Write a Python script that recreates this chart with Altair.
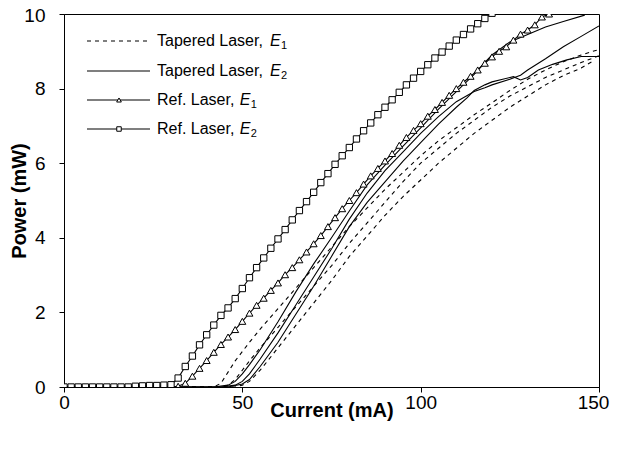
import altair as alt
import pandas as pd

FONT = "Liberation Sans"

# Ref. Laser, E2 (squares)
ref2_x = [0, 2, 4, 6, 8, 10, 12, 14, 16, 18, 20, 22, 24, 26, 28, 30, 32, 34, 36, 38,
          40, 42, 44, 46, 48, 50, 52, 54, 56, 58, 60, 62, 64, 66, 68, 70, 72, 74, 76, 78,
          80, 82, 84, 86, 88, 90, 92, 94, 96, 98, 100, 102, 104, 106, 108, 110, 112, 114,
          116, 118, 120]
ref2_y = [0, 0, 0, 0, 0, 0, 0, 0, 0, 0, 0.02, 0.03, 0.04, 0.04, 0.05, 0.06, 0.24, 0.55,
          0.83, 1.13, 1.40, 1.66, 1.92, 2.12, 2.37, 2.64, 2.93, 3.20, 3.46, 3.72, 3.97,
          4.22, 4.48, 4.73, 4.97, 5.22, 5.48, 5.72, 5.97, 6.20, 6.42, 6.65, 6.87, 7.08,
          7.30, 7.50, 7.70, 7.90, 8.10, 8.28, 8.46, 8.64, 8.82, 8.98, 9.14, 9.30, 9.45,
          9.60, 9.74, 9.88, 10.02]

# Ref. Laser, E1 (triangles)
ref1_x = [0, 2, 4, 6, 8, 10, 12, 14, 16, 18, 20, 22, 24, 26, 28, 30, 32, 34, 36, 38,
          40, 42, 44, 46, 48, 50, 52, 54, 56, 58, 60, 62, 64, 66, 68, 70, 72, 74, 76, 78,
          80, 82, 84, 86, 88, 90, 92, 94, 96, 98, 100, 102, 104, 106, 108, 110, 112, 114,
          116, 118, 120, 122, 124, 126, 128, 130, 132, 134, 136]
ref1_y = [0, 0, 0, 0, 0, 0, 0, 0, 0, 0, 0, 0, 0, 0, 0, 0, 0.02, 0.10, 0.29, 0.50,
          0.71, 0.93, 1.14, 1.34, 1.54, 1.76, 1.98, 2.19, 2.38, 2.59, 2.79, 3.01, 3.20,
          3.41, 3.62, 3.84, 4.06, 4.30, 4.54, 4.78, 5.00, 5.21, 5.44, 5.66, 5.86, 6.06,
          6.26, 6.48, 6.69, 6.88, 7.06, 7.26, 7.44, 7.63, 7.82, 8.00, 8.17, 8.33, 8.50,
          8.68, 8.85, 9.00, 9.12, 9.30, 9.46, 9.57, 9.71, 9.92, 10.0]

# Tapered Laser, E2 (solid, three devices)
tapE2_a_x = [0, 42, 46, 48, 50, 52, 55, 60, 65, 70, 75, 80, 85, 90, 95, 100, 105, 110,
             115, 118, 120, 125, 130, 135, 140, 146]
tapE2_a_y = [0, 0, 0.05, 0.15, 0.35, 0.6, 1.0, 1.75, 2.55, 3.3, 4.0, 4.72, 5.42, 5.95,
             6.45, 6.95, 7.45, 7.92, 8.38, 8.7, 8.9, 9.25, 9.45, 9.65, 9.8, 9.97]
tapE2_b_x = [0, 44, 48, 50, 52, 55, 60, 65, 70, 75, 80, 85, 90, 95, 100, 105, 110, 115,
             118, 120, 125, 128, 130, 135, 140, 145, 150]
tapE2_b_y = [0, 0, 0.05, 0.15, 0.35, 0.75, 1.45, 2.2, 2.95, 3.7, 4.5, 5.2, 5.8, 6.3,
             6.8, 7.25, 7.65, 7.92, 8.02, 8.1, 8.25, 8.36, 8.5, 8.8, 9.12, 9.4, 9.68]
tapE2_c_x = [0, 46, 50, 52, 55, 60, 65, 70, 75, 80, 85, 90, 95, 100, 105, 110, 113, 115,
             118, 120, 123, 126, 128, 130, 133, 137, 141, 145, 150]
tapE2_c_y = [0, 0, 0.08, 0.2, 0.55, 1.2, 1.95, 2.7, 3.5, 4.3, 4.95, 5.5, 6.05, 6.55,
             7.05, 7.5, 7.75, 7.95, 8.1, 8.18, 8.25, 8.32, 8.23, 8.3, 8.5, 8.65, 8.77,
             8.86, 8.86]

# Tapered Laser, E1 (dashed, three devices)
tapE1_a_x = [0, 42, 44, 46, 48, 50, 52, 55, 60, 65, 70, 75, 80, 85, 90, 95, 100, 105,
             110, 115, 120, 125, 130, 135, 140, 145, 150]
tapE1_a_y = [0, 0, 0.1, 0.4, 0.7, 0.95, 1.2, 1.55, 2.1, 2.65, 3.2, 3.75, 4.3, 4.8, 5.3,
             5.75, 6.2, 6.6, 6.95, 7.3, 7.62, 7.95, 8.25, 8.5, 8.72, 8.9, 9.05]
tapE1_b_x = [0, 44, 46, 48, 50, 52, 55, 60, 65, 70, 75, 80, 85, 90, 95, 100, 105, 110,
             115, 120, 125, 130, 135, 140, 145, 150]
tapE1_b_y = [0, 0, 0.05, 0.2, 0.45, 0.7, 1.05, 1.6, 2.15, 2.7, 3.25, 3.85, 4.4, 4.95,
             5.5, 6.0, 6.4, 6.8, 7.15, 7.5, 7.8, 8.05, 8.3, 8.5, 8.7, 8.88]
tapE1_c_x = [0, 48, 50, 52, 55, 60, 65, 70, 75, 80, 85, 90, 95, 100, 105, 110, 115, 120,
             125, 130, 135, 140, 145, 148]
tapE1_c_y = [0, 0, 0.05, 0.15, 0.45, 1.05, 1.65, 2.25, 2.85, 3.5, 4.05, 4.6, 5.1, 5.55,
             6.0, 6.4, 6.8, 7.15, 7.5, 7.8, 8.1, 8.35, 8.55, 8.72]

legend_names = ["Tapered Laser, ", "Tapered Laser, ", "Ref. Laser, ", "Ref. Laser, "]
legend_subs = ["1", "2", "1", "2"]


def frame(xs, ys, run):
    return pd.DataFrame({"x": xs, "y": ys, "run": run})


dashed_df = pd.concat([frame(tapE1_a_x, tapE1_a_y, "a"),
                       frame(tapE1_b_x, tapE1_b_y, "b"),
                       frame(tapE1_c_x, tapE1_c_y, "c")])
solid_df = pd.concat([frame(tapE2_a_x, tapE2_a_y, "a"),
                      frame(tapE2_b_x, tapE2_b_y, "b"),
                      frame(tapE2_c_x, tapE2_c_y, "c")])
ref1_df = frame(ref1_x, ref1_y, "r1")
ref2_df = frame(ref2_x, ref2_y, "r2")

xs = alt.X("x:Q", scale=alt.Scale(domain=[0, 150], nice=False),
           axis=alt.Axis(values=[0, 50, 100, 150], title="Current (mA)",
                         labelPadding=1, titlePadding=-12, labelFlush=False,
                         labelOffset=alt.expr("datum.value >= 150 ? -6 : 0")))
ys = alt.Y("y:Q", scale=alt.Scale(domain=[0, 10], nice=False),
           axis=alt.Axis(values=[0, 2, 4, 6, 8, 10], title="Power (mW)",
                         labelPadding=14, titlePadding=-6, labelFlush=False,
                         labelOffset=alt.expr("datum.value >= 10 ? 1 : 0")))

dashed = alt.Chart(dashed_df).mark_line(color="black", strokeWidth=1.1,
                                        strokeDash=[4, 4], clip=True).encode(
    x=xs, y=ys, detail="run:N")
solid = alt.Chart(solid_df).mark_line(color="black", strokeWidth=1.1, clip=True).encode(
    x=xs, y=ys, detail="run:N")
ref1_line = alt.Chart(ref1_df).mark_line(color="black", strokeWidth=1.1, clip=True).encode(
    x=xs, y=ys)
ref1_pts = alt.Chart(ref1_df).mark_point(shape="triangle-up", size=48, color="black",
                                         fill="white", filled=True, stroke="black",
                                         strokeWidth=1, opacity=1, clip=True).encode(x=xs, y=ys)
ref2_line = alt.Chart(ref2_df).mark_line(color="black", strokeWidth=1.1, clip=True).encode(
    x=xs, y=ys)
ref2_pts = alt.Chart(ref2_df).mark_point(shape="square", size=40, color="black",
                                         fill="white", filled=True, stroke="black",
                                         strokeWidth=1, opacity=1, clip=True).encode(x=xs, y=ys)

# legend (drawn manually so that E can be italic with a subscript)
rows = [27, 57, 86, 115]
lx0, lx1, ltext = 23, 86, 93
name_w = [112.9, 112.9, 82.7, 82.7]
leg = []
one = pd.DataFrame({"k": [0]})
for i, yy in enumerate(rows):
    rule = alt.Chart(one).mark_rule(color="black", strokeWidth=1.1,
                                    **({"strokeDash": [4, 4]} if i == 0 else {})).encode(
        x=alt.value(lx0), x2=alt.value(lx1), y=alt.value(yy))
    leg.append(rule)
    if i >= 2:
        leg.append(alt.Chart(one).mark_point(
            shape="triangle-up" if i == 2 else "square", size=22 if i == 2 else 20,
            filled=True, fill="white", stroke="black", strokeWidth=1, opacity=1).encode(
            x=alt.value(55), y=alt.value(yy)))
    leg.append(alt.Chart(one).mark_text(align="left", baseline="middle", font=FONT,
                                        fontSize=16, color="black",
                                        text=legend_names[i]).encode(
        x=alt.value(ltext), y=alt.value(yy)))
    leg.append(alt.Chart(one).mark_text(align="left", baseline="middle", font=FONT,
                                        fontSize=16, fontStyle="italic", color="black",
                                        text="E").encode(
        x=alt.value(ltext + name_w[i]), y=alt.value(yy)))
    leg.append(alt.Chart(one).mark_text(align="left", baseline="middle", font=FONT,
                                        fontSize=11, color="black",
                                        text=legend_subs[i]).encode(
        x=alt.value(ltext + name_w[i] + 11), y=alt.value(yy + 5)))

chart = alt.layer(dashed, solid, ref1_line, ref2_line, ref1_pts, ref2_pts, *leg).properties(
    width=535, height=373,
    background="white",
    autosize=alt.AutoSizeParams(type="none"),
    padding={"left": 56, "top": 6, "right": 12, "bottom": 58},
).configure_view(stroke="black", strokeWidth=1).configure_axis(
    grid=False, domainColor="black", domainWidth=1, tickColor="black", tickSize=5,
    labelFont=FONT, labelFontSize=19, labelColor="black",
    titleFont=FONT, titleFontSize=20, titleFontWeight="bold", titleColor="black",
)

chart.save("out.html", embed_options={"renderer": "svg", "actions": False})
